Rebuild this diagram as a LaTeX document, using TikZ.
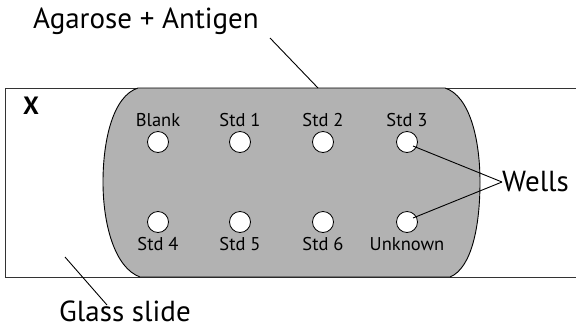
\documentclass[tikz,border=0pt]{standalone}
\usepackage{fontspec}
\setmainfont{PT Sans}
\begin{document}
\begin{tikzpicture}[x=1pt,y=-1pt,
  line/.style={draw=black,line width=0.9pt},
  well/.style={circle,draw=black,fill=white,line width=0.8pt,minimum size=21pt,inner sep=0pt},
  wlabel/.style={font=\fontsize{18.5}{18.5}\selectfont,inner sep=0pt},
  biglabel/.style={font=\fontsize{29}{29}\selectfont,inner sep=0pt}]
\useasboundingbox (0,0) rectangle (576,333);
% slide
\draw[line width=1pt,draw=black!80] (590,88) -- (5,88) -- (5,277) -- (590,277);
% agarose
\path[fill=black!30,draw=black,line width=0.9pt] (138,88) -- (445,88)
  .. controls (470,96) and (480,140) .. (480,182)
  .. controls (480,225) and (472,268) .. (450,277)
  -- (140,277)
  .. controls (115,268) and (103,225) .. (103,182)
  .. controls (103,140) and (113,96) .. (138,88) -- cycle;
\node[font=\bfseries\fontsize{25}{25}\selectfont,inner sep=0pt] (x) at (31,106) {X};
% wells
\node[well] (w1) at (158,142) {};
\node[well] (w2) at (240,142) {};
\node[well] (w3) at (323,142) {};
\node[well] (w4) at (407,142) {};
\node[well] (w5) at (158,222) {};
\node[well] (w6) at (240,222) {};
\node[well] (w7) at (323,222) {};
\node[well] (w8) at (407,222) {};
\node[wlabel] (l1) at (158,120) {Blank};
\node[wlabel] (l2) at (240,120) {Std 1};
\node[wlabel] (l3) at (323,120) {Std 2};
\node[wlabel] (l4) at (407,120) {Std 3};
\node[wlabel] (l5) at (158,244) {Std 4};
\node[wlabel] (l6) at (240,244) {Std 5};
\node[wlabel] (l7) at (323,244) {Std 6};
\node[wlabel] (l8) at (407,244) {Unknown};
% labels
\node[biglabel,anchor=west] (wells) at (502,182) {Wells};
\draw[line] (wells.west) -- (413,146);
\draw[line] (wells.west) -- (413,218);
\node[biglabel] (agar) at (146,21) {Agarose + Antigen};
\coordinate (agarend) at (318,88);
\draw[line] (270,38) -- (agarend);
\node[biglabel] (glass) at (125,311) {Glass slide};
\coordinate (glassend) at (65,257);
\draw[line] (glassend) -- (107,305);
\end{tikzpicture}
\end{document}
